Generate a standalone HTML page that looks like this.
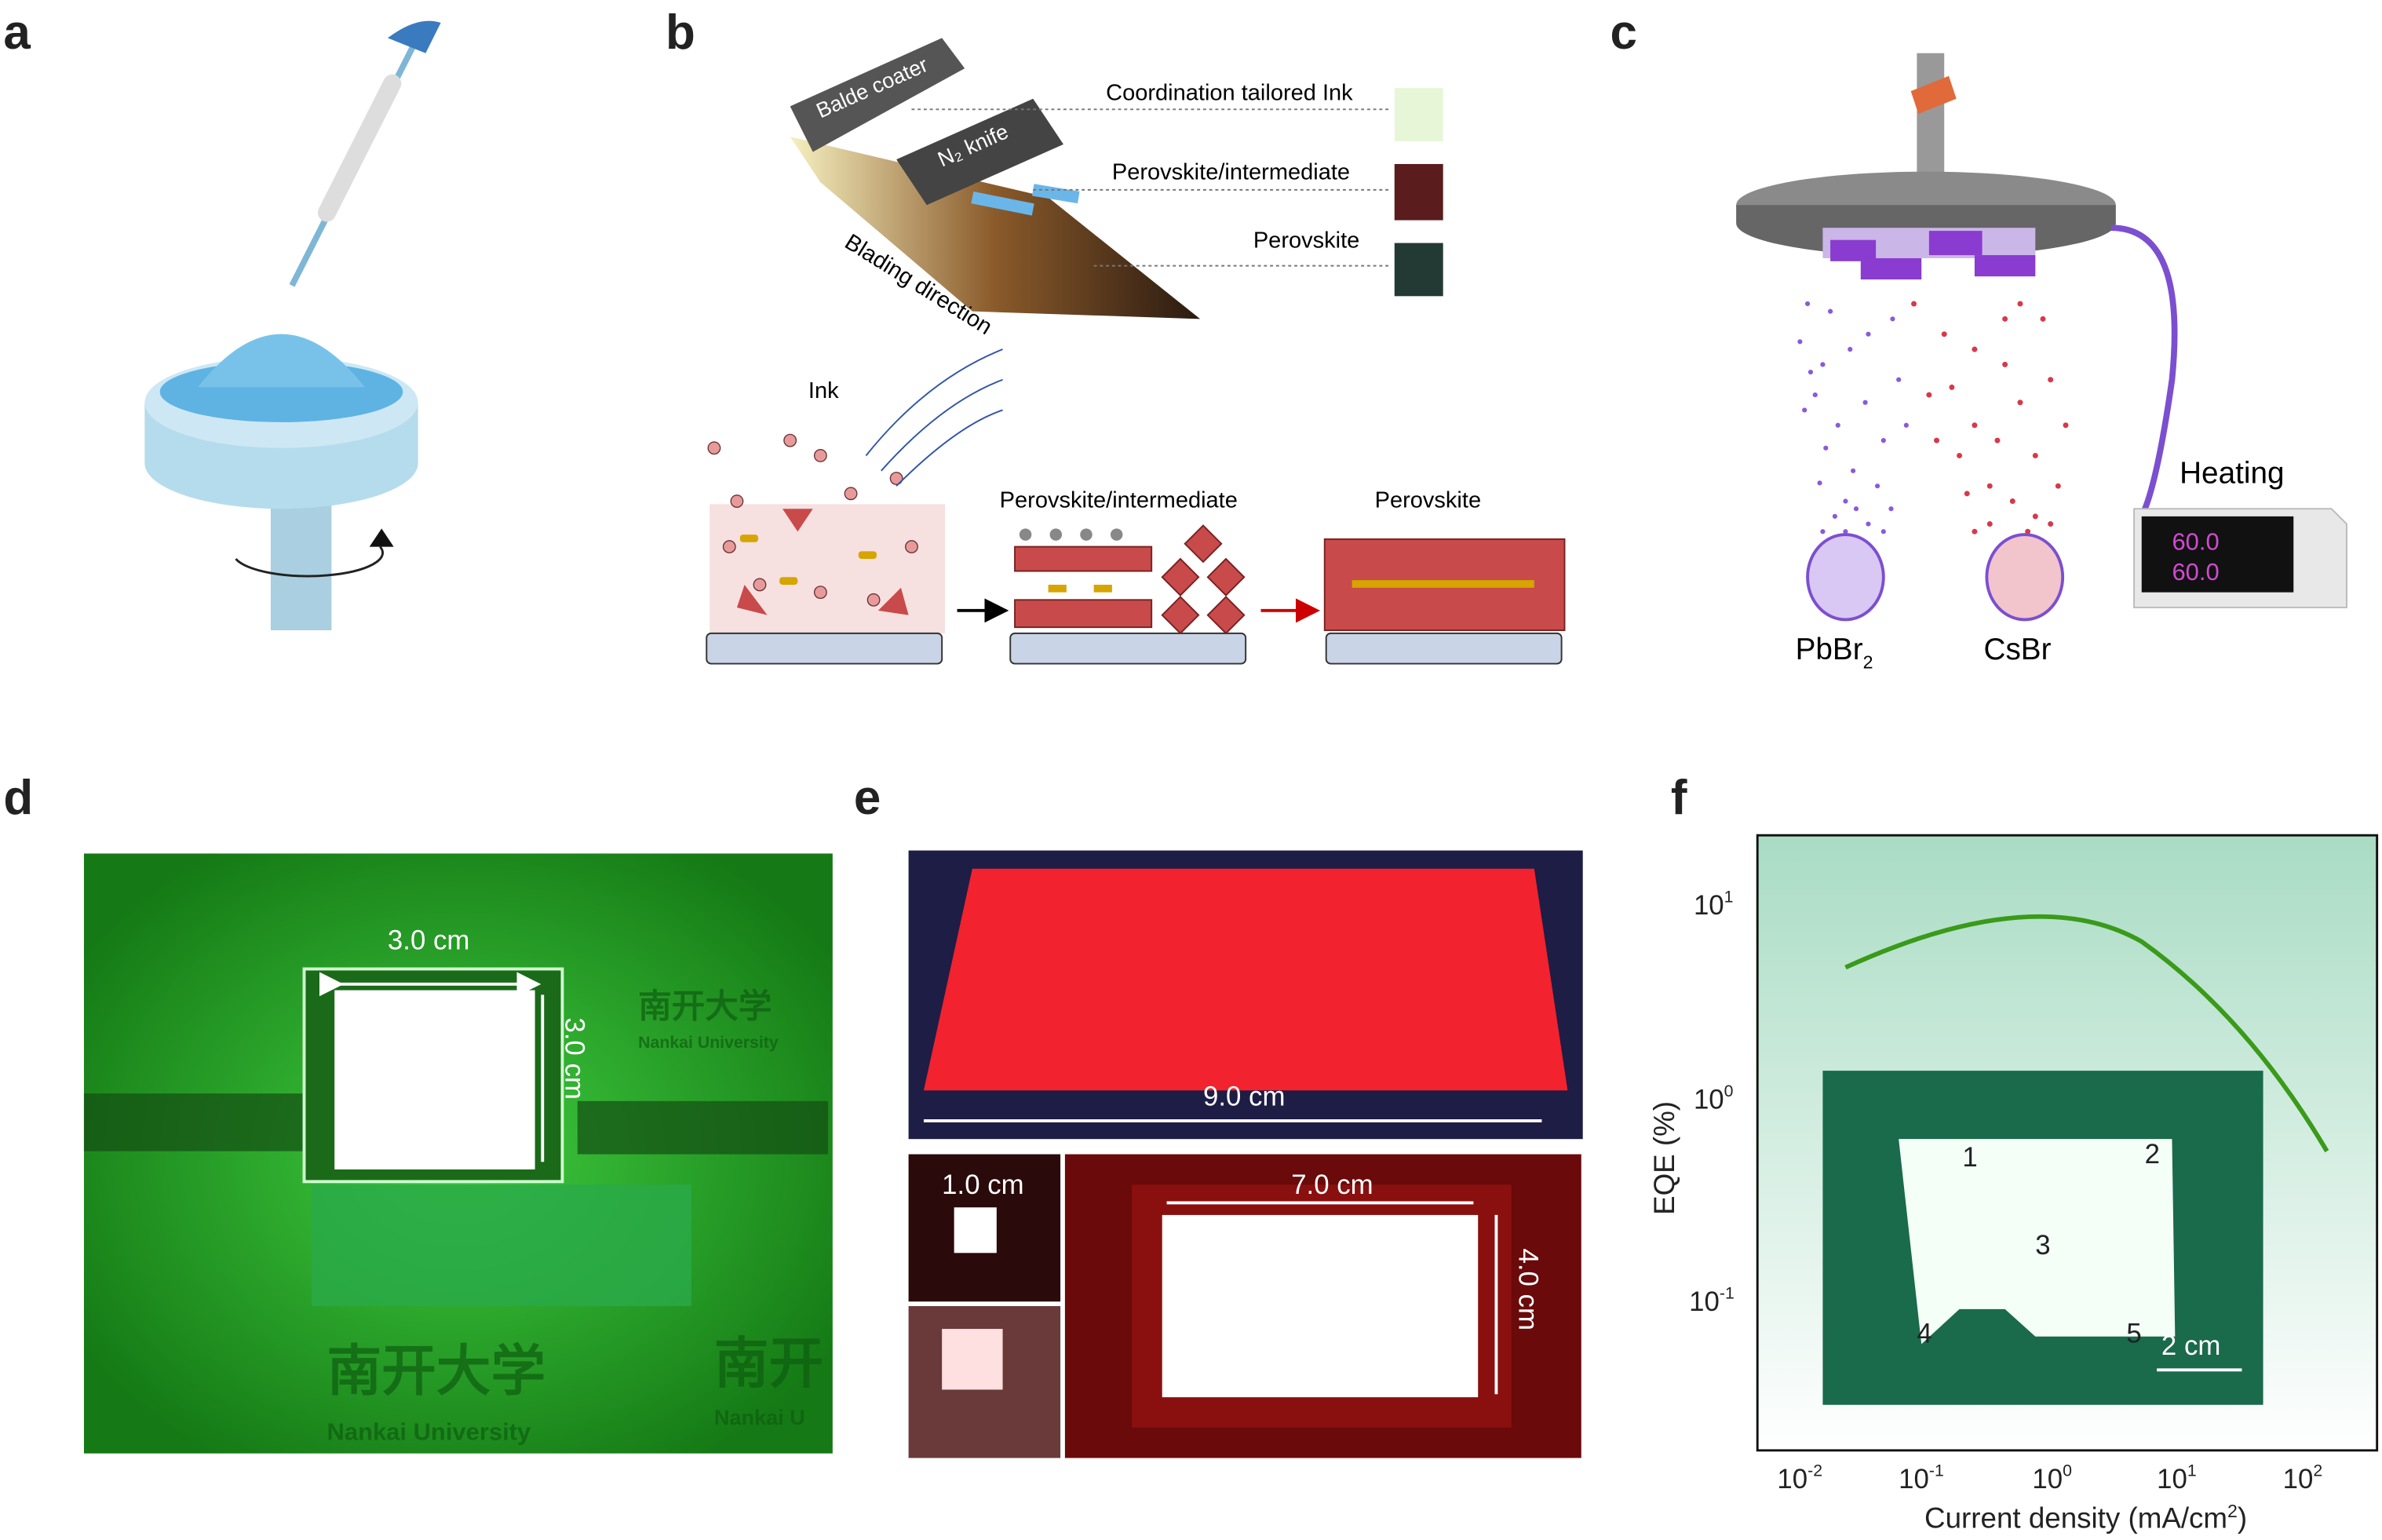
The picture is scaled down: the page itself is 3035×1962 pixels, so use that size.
<!DOCTYPE html>
<html><head><meta charset="utf-8"><style>
html,body{margin:0;padding:0;background:#fff}
svg{display:block}
text{font-family:"Liberation Sans",Arial,sans-serif}
</style></head><body>
<svg width="3035" height="1962" viewBox="0 0 1568 1014" xmlns="http://www.w3.org/2000/svg">
<defs>
<linearGradient id="fg" x1="0" y1="0" x2="0" y2="1"><stop offset="0" stop-color="#a9dcc4"/><stop offset="1" stop-color="#ffffff"/></linearGradient>
<radialGradient id="gg" cx="0.5" cy="0.5" r="0.6"><stop offset="0" stop-color="#3fcc3f"/><stop offset="1" stop-color="#157a15"/></radialGradient>
<linearGradient id="blade" x1="0" y1="0" x2="1" y2="0"><stop offset="0" stop-color="#f6f0c0"/><stop offset="0.5" stop-color="#8a5a2a"/><stop offset="1" stop-color="#2a1a10"/></linearGradient>
<marker id="ah" markerWidth="8" markerHeight="8" refX="6" refY="4" orient="auto"><path d="M0,0 L8,4 L0,8z" fill="#fff"/></marker>
<marker id="ahk" markerWidth="8" markerHeight="8" refX="6" refY="4" orient="auto"><path d="M0,0 L8,4 L0,8z" fill="#000"/></marker>
<marker id="ahr" markerWidth="8" markerHeight="8" refX="6" refY="4" orient="auto"><path d="M0,0 L8,4 L0,8z" fill="#c00"/></marker>
</defs>
<g font-weight="bold" font-size="32" fill="#222">
<text x="2" y="32">a</text><text x="438" y="32">b</text><text x="1060" y="32">c</text>
<text x="2" y="536">d</text><text x="562" y="536">e</text><text x="1100" y="536">f</text>
</g>
<!-- panel a -->
<g>
<line x1="192" y1="188" x2="272" y2="30" stroke="#7fb6d6" stroke-width="4"/>
<line x1="215" y1="140" x2="258" y2="55" stroke="#ddd" stroke-width="12" stroke-linecap="round"/>
<path d="M255 25 q20 -15 35 -10 l-10 20z" fill="#3a7bbf"/>
<rect x="178" y="290" width="40" height="125" fill="#a9cfe0"/>
<path d="M95 265 v40 a90 30 0 0 0 180 0 v-40z" fill="#b5dcec"/>
<ellipse cx="185" cy="265" rx="90" ry="30" fill="#cde8f4"/>
<ellipse cx="185" cy="258" rx="80" ry="20" fill="#5eb3e3"/>
<path d="M130 255 q55 -70 110 0z" fill="#78c2ea"/>
<path d="M155 368 a45 14 0 1 0 95 -8" fill="none" stroke="#222" stroke-width="1.5"/>
<path d="M243 360 l8 -12 l8 12z" fill="#111"/>
</g>
<!-- panel b top -->
<g>
<path d="M520 90 L690 130 L790 210 L640 205 L540 120z" fill="url(#blade)"/>
<path d="M520 70 L620 25 L635 45 L535 100z" fill="#555"/>
<text x="540" y="78" font-size="14" fill="#fff" transform="rotate(-24 540 78)">Balde coater</text>
<path d="M590 105 L680 65 L700 95 L610 135z" fill="#444"/>
<text x="620" y="110" font-size="14" fill="#fff" transform="rotate(-24 620 110)">N₂ knife</text>
<path d="M640 130 l40 8 M680 125 l30 5" stroke="#6ab6e8" stroke-width="8"/>
<text x="555" y="162" font-size="15" transform="rotate(32 555 162)">Blading direction</text>
<text x="728" y="66" font-size="15">Coordination tailored Ink</text>
<text x="732" y="118" font-size="15">Perovskite/intermediate</text>
<text x="825" y="163" font-size="15">Perovskite</text>
<g stroke="#777" stroke-dasharray="2,2" fill="none"><line x1="600" y1="72" x2="915" y2="72"/><line x1="680" y1="125" x2="915" y2="125"/><line x1="720" y1="175" x2="915" y2="175"/></g>
<rect x="918" y="58" width="32" height="35" fill="#e8f6d8"/>
<rect x="918" y="108" width="32" height="37" fill="#5a1c1c"/>
<rect x="918" y="160" width="32" height="35" fill="#223a33"/>
</g>
<!-- panel b bottom -->
<g>
<text x="532" y="262" font-size="15">Ink</text>
<rect x="467" y="332" width="155" height="85" fill="#f7e0e0"/>
<rect x="465" y="417" width="155" height="20" rx="3" fill="#c9d5e6" stroke="#333"/>
<rect x="665" y="417" width="155" height="20" rx="3" fill="#c9d5e6" stroke="#333"/>
<rect x="873" y="417" width="155" height="20" rx="3" fill="#c9d5e6" stroke="#333"/>
<g fill="#e89a9a" stroke="#633" stroke-width="0.7">
<circle cx="485" cy="330" r="4"/><circle cx="560" cy="325" r="4"/><circle cx="590" cy="315" r="4"/><circle cx="520" cy="290" r="4"/><circle cx="470" cy="295" r="4"/><circle cx="540" cy="300" r="4"/><circle cx="500" cy="385" r="4"/><circle cx="540" cy="390" r="4"/><circle cx="600" cy="360" r="4"/><circle cx="480" cy="360" r="4"/><circle cx="575" cy="395" r="4"/></g>
<g fill="#c94a4a"><path d="M515 335 l20 0 l-10 15z"/><path d="M485 400 l20 5 l-15 -20z"/><path d="M578 402 l15 -15 l5 18z"/></g>
<g fill="#d6a500"><rect x="487" y="352" width="12" height="5" rx="2"/><rect x="565" y="363" width="12" height="5" rx="2"/><rect x="513" y="380" width="12" height="5" rx="2"/></g>
<g fill="none" stroke="#3355aa"><path d="M570 300 q40 -50 90 -70"/><path d="M580 310 q40 -45 80 -60"/><path d="M590 320 q40 -40 70 -50"/></g>
<line x1="630" y1="402" x2="660" y2="402" stroke="#000" stroke-width="2" marker-end="url(#ahk)"/>
<line x1="830" y1="402" x2="865" y2="402" stroke="#c00" stroke-width="2" marker-end="url(#ahr)"/>
<text x="658" y="334" font-size="15">Perovskite/intermediate</text>
<text x="905" y="334" font-size="15">Perovskite</text>
<g fill="#c94a4a" stroke="#722">
<rect x="668" y="360" width="90" height="16"/><rect x="668" y="395" width="90" height="18"/>
<path d="M765 380 l12 -12 l12 12 l-12 12z M795 380 l12 -12 l12 12 l-12 12z M765 405 l12 -12 l12 12 l-12 12z M795 405 l12 -12 l12 12 l-12 12z M780 358 l12 -12 l12 12 l-12 12z"/>
<rect x="872" y="355" width="158" height="60"/></g>
<g fill="#d6a500"><rect x="690" y="385" width="12" height="5"/><rect x="720" y="385" width="12" height="5"/><rect x="890" y="382" width="120" height="5"/></g>
<g fill="#888"><circle cx="675" cy="352" r="4"/><circle cx="695" cy="352" r="4"/><circle cx="715" cy="352" r="4"/><circle cx="735" cy="352" r="4"/></g>
</g>
<!-- panel c -->
<g>
<rect x="1262" y="35" width="18" height="85" fill="#999"/>
<path d="M1258 60 l25 -10 l5 15 l-25 10z" fill="#e06a3a"/>
<ellipse cx="1268" cy="135" rx="125" ry="22" fill="#8a8a8a"/>
<path d="M1143 135 v12 a125 22 0 0 0 250 0 v-12z" fill="#666"/>
<rect x="1200" y="150" width="140" height="20" fill="#cbb6e8"/>
<g fill="#8a3bd0"><rect x="1205" y="158" width="30" height="14"/><rect x="1270" y="152" width="35" height="16"/><rect x="1225" y="170" width="40" height="14"/><rect x="1300" y="168" width="40" height="14"/></g>
<path d="M1390 150 q50 0 40 100 q-10 70 -20 90" fill="none" stroke="#7b4fd0" stroke-width="4"/>
<g fill="#8a5ad8">
<circle cx="1190" cy="200" r="1.6"/><circle cx="1200" cy="240" r="1.6"/><circle cx="1210" cy="280" r="1.6"/><circle cx="1220" cy="310" r="1.6"/><circle cx="1230" cy="220" r="1.6"/><circle cx="1195" cy="260" r="1.6"/><circle cx="1240" cy="290" r="1.6"/><circle cx="1215" cy="330" r="1.6"/><circle cx="1250" cy="250" r="1.6"/><circle cx="1185" cy="225" r="1.6"/>
<circle cx="1205" cy="205" r="1.6"/><circle cx="1218" cy="230" r="1.6"/><circle cx="1188" cy="270" r="1.6"/><circle cx="1202" cy="295" r="1.6"/><circle cx="1228" cy="265" r="1.6"/><circle cx="1236" cy="320" r="1.6"/><circle cx="1208" cy="340" r="1.6"/><circle cx="1222" cy="335" r="1.6"/><circle cx="1198" cy="318" r="1.6"/><circle cx="1245" cy="335" r="1.6"/><circle cx="1230" cy="345" r="1.6"/><circle cx="1215" cy="350" r="1.6"/><circle cx="1200" cy="350" r="1.6"/><circle cx="1240" cy="350" r="1.6"/><circle cx="1192" cy="245" r="1.6"/><circle cx="1255" cy="280" r="1.6"/><circle cx="1246" cy="210" r="1.6"/></g>
<g fill="#d8384a">
<circle cx="1330" cy="200" r="1.8"/><circle cx="1320" cy="240" r="1.8"/><circle cx="1300" cy="280" r="1.8"/><circle cx="1280" cy="220" r="1.8"/><circle cx="1340" cy="300" r="1.8"/><circle cx="1310" cy="320" r="1.8"/><circle cx="1270" cy="260" r="1.8"/><circle cx="1350" cy="250" r="1.8"/><circle cx="1290" cy="300" r="1.8"/><circle cx="1260" cy="200" r="1.8"/>
<circle cx="1345" cy="210" r="1.8"/><circle cx="1300" cy="230" r="1.8"/><circle cx="1330" cy="265" r="1.8"/><circle cx="1285" cy="255" r="1.8"/><circle cx="1315" cy="290" r="1.8"/><circle cx="1355" cy="320" r="1.8"/><circle cx="1325" cy="330" r="1.8"/><circle cx="1340" cy="340" r="1.8"/><circle cx="1310" cy="345" r="1.8"/><circle cx="1350" cy="345" r="1.8"/><circle cx="1295" cy="325" r="1.8"/><circle cx="1275" cy="290" r="1.8"/><circle cx="1360" cy="280" r="1.8"/><circle cx="1320" cy="210" r="1.8"/><circle cx="1335" cy="350" r="1.8"/><circle cx="1300" cy="350" r="1.8"/></g>
<ellipse cx="1215" cy="380" rx="25" ry="28" fill="#d9c8f4" stroke="#7b4fd0" stroke-width="2"/>
<ellipse cx="1333" cy="380" rx="25" ry="28" fill="#f2c4cc" stroke="#7b4fd0" stroke-width="2"/>
<text x="1182" y="434" font-size="20">PbBr<tspan font-size="12" dy="6">2</tspan></text>
<text x="1306" y="434" font-size="20">CsBr</text>
<text x="1435" y="318" font-size="20">Heating</text>
<path d="M1405 335 h130 l10 10 v55 h-140z" fill="#e8e8e8" stroke="#bbb"/>
<rect x="1410" y="340" width="100" height="50" fill="#111"/>
<text x="1430" y="362" font-size="16" fill="#d04ad0">60.0</text>
<text x="1430" y="382" font-size="16" fill="#d04ad0">60.0</text>
</g>
<!-- panel d -->
<rect x="55" y="562" width="493" height="395" fill="url(#gg)"/>
<g fill="#0e5e10" opacity="0.7" font-family="Liberation Serif,serif" font-size="22" font-weight="bold">
<text x="420" y="670">南开大学</text><text x="215" y="915" font-size="36">南开大学</text><text x="470" y="910" font-size="36">南开</text>
<text x="215" y="948" font-size="16">Nankai University</text><text x="470" y="938" font-size="14">Nankai U</text>
<text x="420" y="690" font-size="11">Nankai University</text></g>
<rect x="55" y="720" width="170" height="38" fill="#144d14" opacity="0.7"/>
<rect x="380" y="725" width="165" height="35" fill="#144d14" opacity="0.7"/>
<rect x="205" y="780" width="250" height="80" fill="#2aaa4a" opacity="0.8"/>
<rect x="200" y="638" width="170" height="140" fill="#1a6a1a" stroke="#cfffcf" stroke-width="2"/>
<rect x="220" y="652" width="132" height="118" fill="#fff"/>
<text x="255" y="625" font-size="18" fill="#fff">3.0 cm</text>
<line x1="222" y1="648" x2="352" y2="648" stroke="#fff" stroke-width="2" marker-end="url(#ah)" marker-start="url(#ah)"/>
<line x1="357" y1="655" x2="357" y2="765" stroke="#fff" stroke-width="2"/>
<text x="372" y="670" font-size="18" fill="#fff" transform="rotate(90 372 670)">3.0 cm</text>
<!-- panel e -->
<rect x="598" y="560" width="444" height="190" fill="#1d1d45"/>
<path d="M640 572 L1010 572 L1032 718 L608 718z" fill="#f2222e"/>
<line x1="608" y1="738" x2="1015" y2="738" stroke="#fff" stroke-width="2"/>
<text x="792" y="728" font-size="18" fill="#fff">9.0 cm</text>
<rect x="598" y="760" width="100" height="97" fill="#2a0a0a"/>
<rect x="628" y="795" width="28" height="30" fill="#fff"/>
<text x="620" y="786" font-size="18" fill="#fff">1.0 cm</text>
<rect x="598" y="860" width="100" height="100" fill="#6a3a3a"/>
<rect x="620" y="875" width="40" height="40" fill="#ffe0e0"/>
<rect x="701" y="760" width="340" height="200" fill="#6a0a0a"/>
<rect x="745" y="780" width="250" height="160" fill="#8a1010"/>
<rect x="765" y="800" width="208" height="120" fill="#fff"/>
<text x="850" y="786" font-size="18" fill="#fff">7.0 cm</text>
<line x1="768" y1="792" x2="970" y2="792" stroke="#fff" stroke-width="2"/>
<line x1="985" y1="800" x2="985" y2="918" stroke="#fff" stroke-width="2"/>
<text x="1000" y="822" font-size="18" fill="#fff" transform="rotate(90 1000 822)">4.0 cm</text>
<!-- panel f -->
<rect x="1157" y="550" width="408" height="405" fill="url(#fg)" stroke="#111" stroke-width="1.5"/>
<rect x="1200" y="705" width="290" height="220" fill="#1a6a4c"/>
<path d="M1250 750 L1430 750 L1432 880 L1340 880 L1320 862 L1290 862 L1265 885z" fill="#f4fff8"/>
<g font-size="18" fill="#222"><text x="1292" y="768">1</text><text x="1412" y="766">2</text><text x="1340" y="826">3</text><text x="1262" y="884">4</text><text x="1400" y="884">5</text></g>
<text x="1423" y="892" font-size="18" fill="#fff">2 cm</text>
<line x1="1420" y1="902" x2="1476" y2="902" stroke="#fff" stroke-width="2"/>
<path d="M1215 637 Q1340 580 1410 620 Q1480 670 1532 758" fill="none" stroke="#3a9a1a" stroke-width="3"/>
<g font-size="18" fill="#222">
<text x="1115" y="602">10<tspan font-size="11" dy="-8">1</tspan></text>
<text x="1115" y="730">10<tspan font-size="11" dy="-8">0</tspan></text>
<text x="1112" y="863">10<tspan font-size="11" dy="-8">-1</tspan></text>
<text x="1170" y="980">10<tspan font-size="11" dy="-8">-2</tspan></text>
<text x="1250" y="980">10<tspan font-size="11" dy="-8">-1</tspan></text>
<text x="1338" y="980">10<tspan font-size="11" dy="-8">0</tspan></text>
<text x="1420" y="980">10<tspan font-size="11" dy="-8">1</tspan></text>
<text x="1503" y="980">10<tspan font-size="11" dy="-8">2</tspan></text>
<text x="1267" y="1006" font-size="19">Current density (mA/cm<tspan font-size="12" dy="-7">2</tspan><tspan dy="7">)</tspan></text>
<text x="1102" y="800" font-size="19" transform="rotate(-90 1102 800)">EQE (%)</text>
</g>
</svg>
</body></html>
